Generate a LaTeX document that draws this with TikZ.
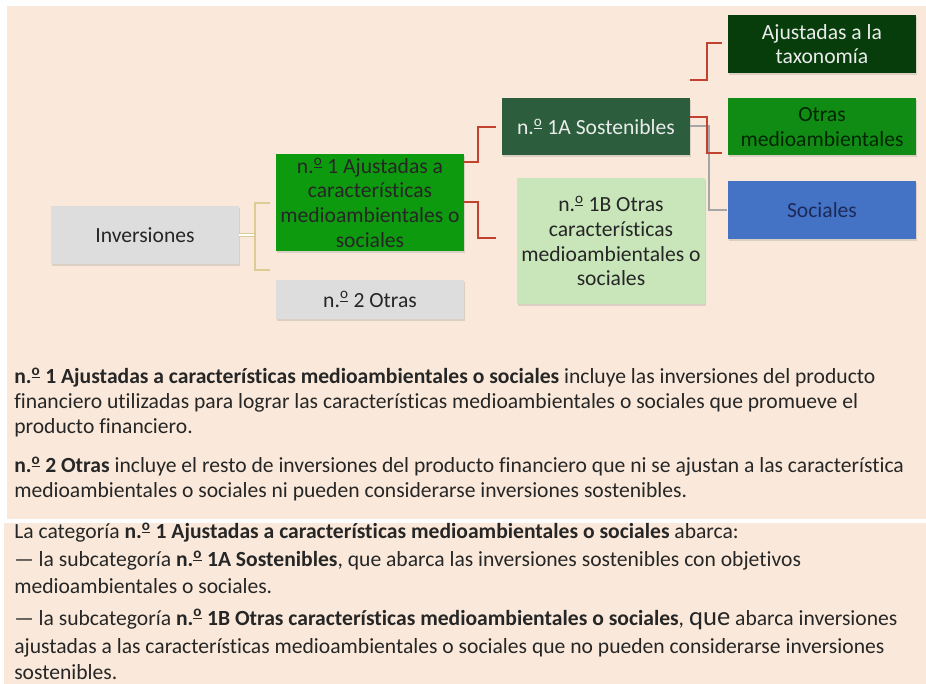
\documentclass[tikz,border=0pt]{standalone}
\usepackage{fontspec}
\setmainfont{Carlito}[Ligatures=NoCommon]
\usepackage{xcolor}
\usetikzlibrary{shadows}
\definecolor{peach}{HTML}{FAE9DA}
\definecolor{boxgray}{HTML}{DDDDDD}
\definecolor{taxogreen}{HTML}{063D0B}
\definecolor{medgreen}{HTML}{108C14}
\definecolor{ajgreen}{HTML}{0E9A0E}
\definecolor{sostgreen}{HTML}{2C5E3E}
\definecolor{palegreen}{HTML}{C8E6BA}
\definecolor{socblue}{HTML}{4472C4}
\definecolor{socnavy}{HTML}{1C2A5A}
\definecolor{inkdark}{HTML}{262626}
\definecolor{linkred}{HTML}{C2412F}
\definecolor{linktan}{HTML}{DCCB92}
\definecolor{linkgray}{HTML}{A6A6A6}
\newcommand{\nro}{n.\textsuperscript{\underline{o}}}
\tikzset{%
  catbox/.style={rectangle, inner sep=0pt, minimum width=141pt, align=center,
    text=inkdark, font=\fontsize{16.2}{18.4}\selectfont,
    drop shadow={shadow xshift=0.5pt, shadow yshift=-1.5pt, opacity=0.25}},
  bodytxt/.style={anchor=base west, inner sep=0pt, text=inkdark,
    font=\fontsize{16.2}{18.4}\selectfont},
  redlink/.style={linkred, line width=1.1pt},
  tanlink/.style={linktan, line width=0.8pt},
  graylink/.style={linkgray, line width=0.8pt}
}

\begin{document}
\begin{tikzpicture}[x=0.75pt,y=-0.75pt]
\useasboundingbox (0,0) rectangle (926,684);
\fill[white] (0,0) rectangle (926,684);
\fill[peach] (7,6) rectangle (926,519);
\fill[peach] (4,523) rectangle (926,684);
% boxes
\node[catbox, fill=boxgray, minimum height=43.5pt] (inv) at (145,235) {Inversiones};
\node[catbox, fill=ajgreen, minimum height=72.75pt, text=black!85] (aj) at (370,202.5)
  {\nro\ 1 Ajustadas a\\características\\medioambientales o\\sociales};
\node[catbox, fill=boxgray, minimum height=29.25pt] (otr) at (370,299.5) {\nro\ 2 Otras};
\node[catbox, fill=sostgreen, minimum height=42.75pt, text=white!92!black] (sost) at (596,127) {\nro\ 1A Sostenibles};
\node[catbox, fill=palegreen, minimum height=94.5pt] (oca) at (611,241)
  {\nro\ 1B Otras\\características\\medioambientales o\\sociales};
\node[catbox, fill=taxogreen, minimum height=43.5pt, text=white!92!black] (taxo) at (822,44)
  {Ajustadas a la\\taxonomía};
\node[catbox, fill=medgreen, minimum height=42.75pt, text=black!85!green] (med) at (822,127)
  {Otras\\medioambientales};
\node[catbox, fill=socblue, minimum height=43.5pt, text=socnavy] (soc) at (822,210) {Sociales};
% connectors
\coordinate (brk) at (255,235);
\coordinate (brkT) at (270,203);
\coordinate (brkB) at (270,270);
\draw[tanlink, double, double distance=2pt] (inv.east) -- (brk);
\draw[tanlink] (brkT) -| (brk) |- (brkB);
\coordinate (ajA) at (464,162);
\coordinate (ajB) at (464,202);
\coordinate (toA) at (496,127);
\coordinate (toB) at (496,238);
\draw[redlink] (ajA) -- ++(14,0) |- (toA);
\draw[redlink] (ajB) -- ++(14,0) |- (toB);
\coordinate (sostT) at (690,80);
\coordinate (sostM) at (690,117);
\coordinate (sostS) at (690,126);
\coordinate (toTaxo) at (722,43);
\coordinate (toMed) at (722,153);
\coordinate (toSoc) at (727,210);
\draw[graylink] (sostS) -- ++(19,0) |- (toSoc);
\draw[redlink] (sostT) -- ++(17,0) |- (toTaxo);
\draw[redlink] (sostM) -- ++(17,0) |- (toMed);
% text below
\node[bodytxt] (pa1) at (14,384) {\textbf{\nro\ 1 Ajustadas a características medioambientales o sociales} incluye las inversiones del producto};
\node[bodytxt] (pa2) at (14,409) {financiero utilizadas para lograr las características medioambientales o sociales que promueve el};
\node[bodytxt] (pa3) at (14,434) {producto financiero.};
\node[bodytxt] (pb1) at (14,473) {\textbf{\nro\ 2 Otras} incluye el resto de inversiones del producto financiero que ni se ajustan a las característica};
\node[bodytxt] (pb2) at (14,498) {medioambientales o sociales ni pueden considerarse inversiones sostenibles.};
\node[bodytxt] (pc1) at (14,539) {La categoría \textbf{\nro\ 1 Ajustadas a características medioambientales o sociales} abarca:};
\node[bodytxt] (pc2) at (14,567) {— la subcategoría \textbf{\nro\ 1A Sostenibles}, que abarca las inversiones sostenibles con objetivos};
\node[bodytxt] (pc3) at (14,594) {medioambientales o sociales.};
\node[bodytxt] (pd1) at (14,625) {— la subcategoría \textbf{\nro\ 1B Otras características medioambientales o sociales}, {\fontsize{20}{21}\selectfont que} abarca inversiones};
\node[bodytxt] (pd2) at (14,653) {ajustadas a las características medioambientales o sociales que no pueden considerarse inversiones};
\node[bodytxt] (pd3) at (14,680) {sostenibles.};
\end{tikzpicture}
\end{document}
